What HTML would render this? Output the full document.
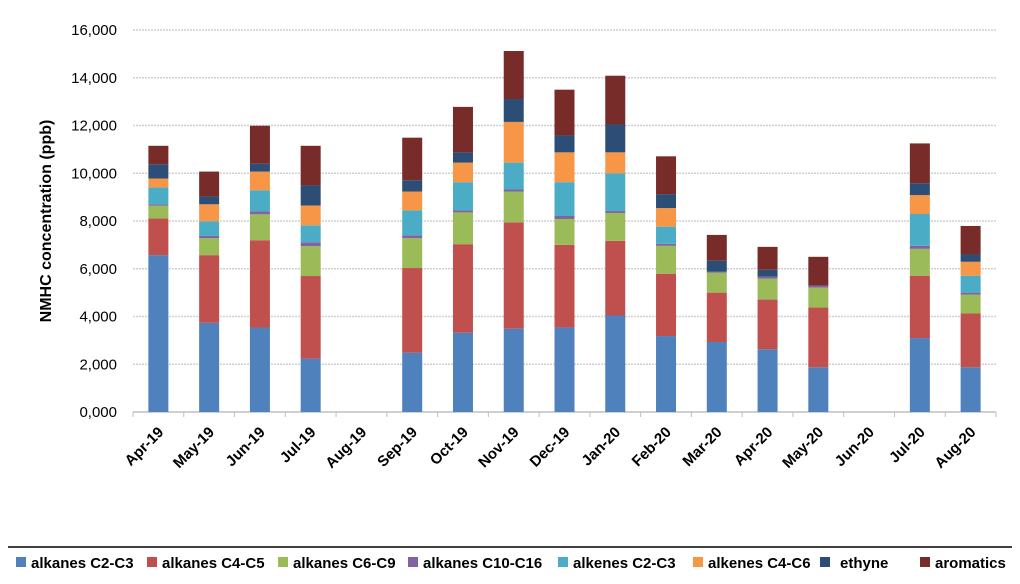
<!DOCTYPE html>
<html><head><meta charset="utf-8"><style>
html,body{margin:0;padding:0;background:#fff;}
svg{display:block;font-family:"Liberation Sans",sans-serif;}
</style></head><body>
<svg id="chart" width="1020" height="584" viewBox="0 0 1020 584">
<g id="grid"></g>
<g id="yaxis"></g>
<text transform="translate(51,221) rotate(-90)" text-anchor="middle" font-size="16" font-weight="bold">NMHC concentration (ppb)</text>
<g id="bars"></g>
<g id="xaxis"></g>
<line x1="8" y1="547" x2="1012" y2="547" stroke="#000" stroke-width="1.5"/>
<g id="legend"></g>
</svg>
<script>
const categories=["Apr-19","May-19","Jun-19","Jul-19","Aug-19","Sep-19","Oct-19","Nov-19","Dec-19","Jan-20","Feb-20","Mar-20","Apr-20","May-20","Jun-20","Jul-20","Aug-20"];
const seriesNames=["alkanes C2-C3","alkanes C4-C5","alkanes C6-C9","alkanes C10-C16","alkenes C2-C3","alkenes C4-C6","ethyne","aromatics"];
const alkanesC2C3=[6570,3736,3540,2236,0,2486,3320,3490,3542,4042,3181,2931,2625,1875,0,3097,1875];
const alkanesC4C5=[1540,2834,3655,3459,0,3544,3710,4455,3458,3125,2611,2069,2084,2500,0,2612,2250];
const alkanesC6C9=[530,710,1085,1250,0,1250,1330,1290,1085,1167,1167,834,875,834,0,1125,792];
const alkanesC10C16=[60,95,120,165,0,120,85,85,125,83,83,41,83,83,0,125,83];
const alkenesC2C3=[700,615,890,710,0,1045,1180,1125,1416,1583,722,0,0,0,0,1333,709];
const alkenesC4C6=[380,710,780,830,0,790,820,1705,1250,876,778,0,0,0,0,792,583];
const ethyne=[595,330,330,840,0,475,430,960,708,1167,584,459,292,0,0,500,306];
const aromatics=[775,1040,1590,1660,0,1780,1905,2010,1916,2042,1583,1083,958,1208,0,1666,1194];
const yTicks=[0,2000,4000,6000,8000,10000,12000,14000,16000];
const yTickLabels=["0,000","2,000","4,000","6,000","8,000","10,000","12,000","14,000","16,000"];
const legendX=[16,147,278,408,558,693,820,920];

const series=[alkanesC2C3,alkanesC4C5,alkanesC6C9,alkanesC10C16,alkenesC2C3,alkenesC4C6,ethyne,aromatics];
const colors=["#4f81bd","#c0504d","#9bbb59","#8064a2","#4bacc6","#f79646","#2c4d75","#772c2a"];
const NS="http://www.w3.org/2000/svg";
const L=133,R=996,Y0=412,Y1=30,MAX=16000;
const band=(R-L)/categories.length;
function y(v){return Y0-(v/MAX)*(Y0-Y1);}
function xc(i){return L+band*(i+0.5);}
function mk(t,a,p){const e=document.createElementNS(NS,t);for(const k in a)e.setAttribute(k,a[k]);p.appendChild(e);return e;}
const grid=document.getElementById('grid'),ya=document.getElementById('yaxis'),bars=document.getElementById('bars'),xa=document.getElementById('xaxis'),lg=document.getElementById('legend');
yTicks.forEach((t,i)=>{
  const g=mk('line',{x1:L,x2:R,y1:y(t),y2:y(t),stroke:i===0?'#bfbfbf':'#d0d0d0','stroke-width':1.5,'stroke-dasharray':i===0?'':'2,1'},grid);
  
  
  const tx=mk('text',{x:117,y:y(t)+5,'text-anchor':'end','font-size':15,fill:'#000'},ya);
  tx.textContent=yTickLabels[i];
  
  
});
for(let i=0;i<=categories.length;i++){
  const tk=mk('line',{x1:L+band*i,x2:L+band*i,y1:Y0,y2:Y0+5,stroke:'#bfbfbf','stroke-width':1},xa);
  
  
}
categories.forEach((c,i)=>{
  let cum=0;
  series.forEach((s,j)=>{
    const v=s[i];if(!v)return;
    const r=mk('rect',{x:xc(i)-10,width:20,y:y(cum+v),height:y(cum)-y(cum+v),fill:colors[j]},bars);
    
    
    cum+=v;
  });
  const t=mk('text',{transform:`translate(${xc(i)+6},${Y0+21}) rotate(-45)`,'text-anchor':'end','font-size':15,'font-weight':'bold'},xa);
  t.textContent=c;
  
  
});
seriesNames.forEach((n,j)=>{
  const g=mk('g',{},lg);
  
  
  mk('rect',{x:legendX[j],y:557,width:10,height:10,fill:colors[j]},g);
  const t=mk('text',{x:legendX[j]+(j===6?20:15),y:568,'font-size':15,'font-weight':'bold'},g);
  t.textContent=n;
});
</script>
</body></html>
